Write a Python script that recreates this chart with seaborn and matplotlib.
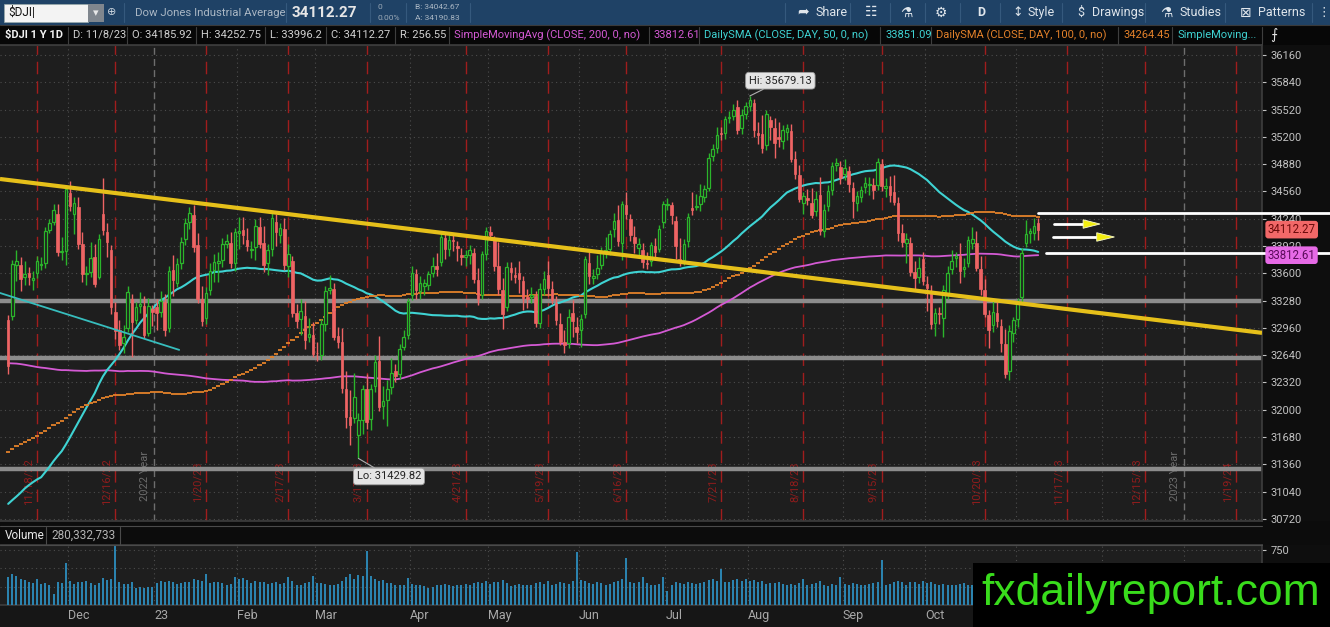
import numpy as np
import pandas as pd
import matplotlib
matplotlib.use("Agg")
import matplotlib.pyplot as plt
from matplotlib.patches import Rectangle, Polygon
from matplotlib.transforms import blended_transform_factory
import seaborn as sns

# ---------------- data ($DJI, daily, 1 year) ----------------
# closes before the visible window (Jan 3 - Nov 8 2022), only feed the moving averages
prior_closes = [
    36585, 36799, 36407, 36236, 36231, 36068, 36252, 36290, 36113, 35912, 35368, 35029, 34715, 34265, 34365, 34298, 34168, 34160, 34725, 35132,
    35405, 35630, 35111, 35089, 35091, 35463, 35768, 35242, 34738, 34566, 34989, 34935, 34312, 34079, 33597, 33132, 33224, 34059, 33893,
    33295, 33891, 33795, 33615, 32818, 32633, 33286, 33174, 32944, 32945, 33545, 34063, 34481, 34755, 34553, 34808, 34359, 34708, 34862, 34956, 35295, 35229, 34678,
    34818, 34922, 34642, 34497, 34584, 34721, 34309, 34221, 34565, 34452, 34412, 34912, 35161, 34793, 33811, 34049, 33240, 33302, 34000, 32977,
    33062, 33129, 34061, 32998, 32899, 32246, 32161, 31834, 31730, 32197, 32224, 32655, 31490, 31254, 31262, 31880, 31928, 32120, 32637, 33213, 32990,
    32813, 33248, 32900, 32916, 33180, 32910, 32272, 31393, 30517, 30365, 30669, 29927, 29889, 30530, 30484, 30677, 31501, 31439, 30947, 31029, 30775,
    31097, 30968, 31037, 31385, 31338, 31174, 30982, 30773, 30630, 31288, 31073, 31827, 31875, 32036, 31899, 31990, 31762, 32198, 32529, 32845,
    32798, 32397, 32813, 32727, 32803, 32833, 32775, 33310, 33337, 33761, 33913, 34152, 33981, 33999, 33707, 33064, 32910, 32969, 33292, 32283, 32099, 31791, 31510,
    31657, 31318, 31146, 31581, 31775, 32152, 32382, 31105, 31136, 30962, 30822, 31020, 30706, 30184, 30077, 29590, 29261, 29135, 29684, 29226, 28726,
    29490, 30317, 30274, 29927, 29297, 29203, 29240, 29211, 30039, 29635, 30186, 30524, 30424, 30334, 31083, 31500, 31837, 31839, 32034, 32862, 32733,
    32653, 32148, 32001, 32403, 32827, 33160,
]

first_day = "2022-11-09"
closes = [
    32514, 33715, 33748, 33537, 33593, 33554, 33546, 33746, 33700, 34098, 34194, 34347, 33849, 33853, 34590,
    34395, 34430, 33947, 33596, 33598, 33781, 33476, 34005, 34109, 33966, 33202, 32920, 32758, 32850, 33376, 33027, 33204, 33242, 32876, 33221, 33147,
    33136, 33270, 32930, 33631, 33518, 33704, 33973, 34190, 34303, 33911, 33297, 33045, 33375, 33630, 33734, 33744, 33949, 33978, 33717, 34086,
    34093, 34054, 33926, 33891, 34157, 33949, 33700, 33869, 34246, 34089, 34128, 33697, 33827, 33130, 33045, 33154, 32817, 32889, 32657,
    32662, 33004, 33391, 33431, 32856, 32798, 32255, 31910, 31819, 32155, 31875, 32247, 31862, 32245, 32561, 32030, 32105, 32238, 32432, 32394, 32718, 32859, 33274,
    33601, 33402, 33483, 33485, 33587, 33685, 33647, 34030, 33886, 33987, 33977, 33897, 33787, 33809, 33875, 33531, 33302, 33826, 34098,
    34052, 33685, 33414, 33128, 33674, 33619, 33562, 33531, 33310, 33301, 33349, 33012, 33421, 33536, 33427, 33287, 33056, 32800, 32765, 33093, 33043, 32908,
    33062, 33763, 33563, 33573, 33665, 33834, 33877, 34066, 34212, 33979, 34408, 34299, 34054, 33952, 33947, 33727, 33715, 33927, 33853, 34122, 34408,
    34418, 34289, 33922, 33735, 33944, 34261, 34347, 34395, 34509, 34585, 34952, 35061, 35225, 35228, 35411, 35438, 35520, 35283, 35459, 35560,
    35631, 35283, 35216, 35066, 35473, 35314, 35123, 35176, 35281, 35308, 34946, 34766, 34475, 34501, 34464, 34289, 34473, 34099, 34347, 34560, 34853, 34890, 34722,
    34838, 34642, 34443, 34501, 34577, 34664, 34646, 34576, 34907, 34618, 34624, 34518, 34441, 34070, 33964, 34007, 33619, 33550, 33666, 33508,
    33433, 33002, 33130, 33120, 33408, 33605, 33739, 33805, 33631, 33670, 33985, 33998, 33665, 33414, 33127, 32936, 33141, 33036, 32784, 32418, 32929, 33053,
    33275, 33839, 34061, 34096, 34153, 34112.27,
]
opens = [
    33050, 33100, 33700, 33700, 33560, 33600, 33520, 33600, 33700, 33720, 34110, 34200, 34300, 33850, 33860,
    34540, 34300, 34380, 33940, 33590, 33620, 33790, 33560, 34300, 34080, 33870, 33150, 32930, 32780, 32960, 33300, 33050, 33220, 33220, 32900, 33180,
    33210, 33150, 33260, 32960, 33640, 33490, 33720, 34000, 34200, 34280, 33930, 33300, 33080, 33400, 33640, 33720, 33760, 33940, 33950, 33720,
    34070, 34110, 33990, 33870, 33910, 34140, 33960, 33720, 33880, 34200, 34050, 34120, 33690, 33740, 33130, 33060, 33100, 32850, 32880,
    32670, 32640, 33010, 33400, 33420, 32860, 32790, 32240, 31910, 31900, 31700, 31880, 32240, 31890, 32280, 32570, 32040, 32120, 32270, 32450, 32420, 32740, 32880,
    33340, 33590, 33390, 33450, 33460, 33600, 33690, 33730, 34010, 33880, 33990, 33920, 33810, 33790, 33810, 33840, 33520, 33350, 33830,
    34090, 34000, 33680, 33400, 33200, 33660, 33580, 33600, 33510, 33320, 33320, 33330, 33020, 33420, 33580, 33420, 33250, 33010, 32790, 32780, 33130, 32970,
    32930, 33120, 33720, 33540, 33590, 33700, 33850, 33890, 34120, 34220, 33960, 34400, 34240, 34030, 33900, 33870, 33720, 33740, 33920, 33890, 34200,
    34400, 34400, 34210, 33770, 33760, 33980, 34360, 34380, 34410, 34500, 34600, 34980, 35070, 35240, 35250, 35420, 35450, 35550, 35300, 35470,
    35560, 35600, 35250, 35230, 35100, 35400, 35300, 35200, 35150, 35260, 35270, 34940, 34750, 34420, 34480, 34430, 34330, 34520, 34100, 34390, 34580, 34870, 34850,
    34770, 34800, 34600, 34430, 34500, 34610, 34630, 34640, 34640, 34880, 34600, 34620, 34550, 34420, 34070, 33960, 33950, 33620, 33560, 33770,
    33480, 33370, 33020, 33130, 33080, 33360, 33650, 33780, 33800, 33650, 33720, 33960, 33950, 33650, 33400, 33110, 32990, 33130, 32980, 32770, 32450, 32900,
    33070, 33320, 33950, 34070, 34070, 34185.92,
]
# wick lengths above the body top / below the body bottom, in index points
upper_wick = [
    60, 40, 130, 90, 150, 70, 80, 60, 90, 50, 40, 60, 110, 170, 30,
    140, 60, 120, 150, 90, 190, 150, 60, 420, 110, 60, 110, 120, 140, 80, 60, 60, 140, 110, 90, 50,
    90, 120, 100, 60, 170, 80, 50, 60, 70, 120, 140, 150, 60, 90, 90, 110, 60, 80, 140, 40,
    170, 150, 140, 90, 80, 120, 200, 80, 60, 90, 60, 130, 120, 60, 110, 150, 180, 190, 150,
    130, 60, 60, 150, 70, 110, 170, 210, 320, 280, 90, 40, 180, 60, 80, 300, 170, 110, 170, 90, 50, 80, 40,
    80, 60, 90, 50, 40, 110, 150, 40, 80, 60, 80, 60, 90, 70, 60, 60, 140, 40, 50,
    70, 40, 290, 140, 60, 70, 90, 150, 60, 100, 90, 60, 60, 90, 170, 90, 80, 120, 140, 90, 160, 120,
    60, 40, 130, 80, 150, 70, 150, 40, 90, 180, 40, 150, 60, 120, 70, 90, 130, 40, 90, 50, 40,
    70, 40, 60, 240, 60, 50, 190, 130, 140, 50, 60, 50, 90, 80, 30, 60, 60, 80, 70, 50,
    48.13, 40, 130, 230, 40, 40, 120, 170, 60, 40, 80, 90, 120, 50, 110, 170, 90, 210, 70, 80, 50, 60, 70,
    100, 60, 70, 60, 50, 60, 80, 80, 40, 60, 90, 120, 200, 80, 110, 70, 80, 120, 130, 80,
    90, 90, 60, 70, 60, 80, 130, 40, 150, 110, 50, 140, 150, 150, 130, 60, 150, 160, 80, 180, 60, 40,
    40, 60, 170, 40, 90, 66.83,
]
lower_wick = [
    90, 50, 190, 140, 100, 90, 120, 50, 60, 60, 40, 30, 50, 90, 160,
    60, 240, 60, 100, 130, 60, 40, 30, 60, 180, 80, 90, 60, 120, 50, 410, 50, 90, 30, 40, 170,
    200, 60, 70, 50, 180, 50, 70, 70, 80, 60, 50, 60, 70, 50, 140, 220, 90, 40, 50, 90,
    190, 110, 60, 90, 150, 50, 80, 140, 80, 170, 100, 60, 130, 40, 90, 180, 100, 50, 40,
    90, 60, 90, 40, 40, 70, 60, 120, 230, 60, 270.18, 160, 90, 130, 70, 40, 150, 310, 90, 70, 60, 40, 50,
    50, 100, 90, 110, 50, 40, 80, 40, 120, 80, 110, 150, 90, 110, 100, 50, 70, 50, 70,
    50, 60, 70, 180, 40, 100, 70, 160, 140, 110, 70, 40, 60, 80, 90, 50, 60, 40, 100, 50, 190, 120,
    190, 40, 90, 70, 60, 50, 70, 80, 90, 60, 200, 60, 70, 110, 90, 60, 60, 50, 70, 40, 70,
    60, 110, 150, 50, 60, 70, 60, 40, 80, 60, 40, 60, 60, 60, 70, 60, 50, 50, 70, 60,
    60, 80, 100, 60, 50, 150, 170, 100, 90, 100, 40, 60, 40, 130, 60, 40, 60, 50, 80, 60, 60, 70, 80,
    70, 90, 190, 100, 60, 70, 110, 110, 60, 50, 110, 80, 40, 90, 60, 240, 50, 150, 70, 40,
    270, 50, 150, 110, 230, 60, 60, 110, 140, 90, 50, 80, 40, 70, 40, 210, 80, 70, 110, 40, 100, 100,
    100, 60, 40, 110, 80, 116.07,
]
# volume in millions of shares
volume_m = [
    380, 430, 390, 360, 340, 320, 300, 360, 290, 300, 280, 150, 310, 300, 580,
    330, 290, 310, 320, 330, 300, 280, 300, 370, 340, 360, 800, 310, 290, 290, 320, 230, 240, 230, 240, 250,
    300, 330, 320, 330, 310, 290, 300, 320, 310, 350, 340, 330, 430, 300, 310, 320, 300, 280, 290, 380,
    360, 370, 340, 300, 330, 310, 320, 290, 300, 310, 290, 300, 380, 330, 280, 270, 300, 310, 400,
    300, 300, 290, 270, 280, 290, 330, 380, 420, 360, 410, 390, 740, 400, 350, 330, 340, 300, 300, 280, 270, 280, 370,
    290, 280, 270, 260, 230, 250, 270, 280, 290, 270, 260, 270, 280, 290, 270, 300, 310, 300, 330,
    290, 310, 320, 340, 300, 260, 280, 290, 280, 270, 280, 300, 310, 290, 330, 270, 290, 310, 300, 290, 330, 720,
    340, 330, 300, 290, 320, 300, 280, 290, 320, 330, 360, 640, 320, 300, 310, 380, 300, 280, 270, 290, 380,
    190, 270, 310, 300, 290, 310, 300, 290, 300, 320, 340, 350, 330, 490, 320, 320, 340, 350, 330, 360,
    330, 340, 320, 330, 290, 300, 300, 310, 290, 270, 290, 280, 300, 360, 280, 290, 300, 330, 280, 260, 290, 280, 380,
    290, 280, 300, 290, 270, 280, 290, 300, 310, 620, 280, 290, 310, 330, 310, 280, 320, 310, 290, 330,
    300, 320, 290, 280, 290, 280, 270, 280, 290, 300, 280, 270, 300, 310, 340, 290, 280, 300, 310, 330, 290, 320,
    310, 350, 320, 290, 280, 280.33,
]

holidays = ["2022-11-24", "2022-12-26", "2023-01-02", "2023-01-16", "2023-02-20", "2023-04-07",
            "2023-05-29", "2023-06-19", "2023-07-04", "2023-09-04", "2023-11-23", "2023-12-25",
            "2024-01-01", "2024-01-15", "2024-02-19"]
expiries = ["2022-11-18", "2022-12-16", "2023-01-20", "2023-02-17", "2023-03-17", "2023-04-21",
            "2023-05-19", "2023-06-16", "2023-07-21", "2023-08-18", "2023-09-15", "2023-10-20",
            "2023-11-17", "2023-12-15", "2024-01-19"]

# study values shown in the header
sma200_last, sma50_last, sma100_last = 33812.61, 33851.09, 34264.45
header_ohlc = ["D: 11/8/23", "O: 34185.92", "H: 34252.75", "L: 33996.2", "C: 34112.27", "R: 256.55"]
volume_text = "280,332,733"

# drawings on the chart
gray_levels = [33270, 32610, 31300]
yellow_trend = [("2022-12-01", 34606), ("2023-11-08", 33222)]
cyan_trend = [("2022-11-09", 33339), ("2023-01-10", 32710)]
white_levels = [("2023-11-08", 34308), ("2023-11-10", 33840)]
# arrows: price, shaft start / head start / tip in bars after the last candle
arrow_specs = [(34178, 3.8, 10.9, 15.0), (34026, 3.6, 14.2, 18.5)]

# ---------------- layout ----------------
W, H = 1330, 627
BAR_PX, FIRST_PX, PLOT_R = 4.12, 8.2, 1262
WATERMARK_X = 973
P_LO, P_HI = 30696, 36277
BG = "#1e1e1e"
GREEN, RED = "#2bb52b", "#ee6464"
CYAN, ORANGE, MAGENTA = "#3fd3d3", "#e3812a", "#d45ad4"
GRID = "#4c4c4c"

sns.set_theme(style="dark", rc={"axes.facecolor": BG, "figure.facecolor": "#0e0e0e",
                                "axes.edgecolor": "#3c3c3c"})
plt.rcParams["font.family"] = ["Roboto", "DejaVu Sans"]

fig = plt.figure(figsize=(W / 100, H / 100), dpi=100)


def frac(x0, y0, x1, y1):
    return [x0 / W, 1 - y1 / H, (x1 - x0) / W, (y1 - y0) / H]


def ftext(x, y, s, **kw):
    kw.setdefault("va", "center")
    return fig.text(x / W, 1 - y / H, s, **kw)


def frect(x0, y0, x1, y1, **kw):
    fig.add_artist(Rectangle((x0 / W, 1 - y1 / H), (x1 - x0) / W, (y1 - y0) / H,
                             transform=fig.transFigure, **kw))


def fline(x0, y0, x1, y1, **kw):
    fig.add_artist(plt.Line2D([x0 / W, x1 / W], [1 - y0 / H, 1 - y1 / H],
                              transform=fig.transFigure, **kw))


ax = fig.add_axes(frac(0, 45, PLOT_R, 521))
axv = fig.add_axes(frac(0, 545, PLOT_R, 605), sharex=ax)

dates = pd.bdate_range(first_day, "2024-02-29", freq="C", holidays=holidays)
n = min(len(closes), len(opens), len(upper_wick), len(lower_wick), len(volume_m))
x = np.arange(n)
c = np.array(closes[:n], float)
o = np.array(opens[:n], float)
hi = np.maximum(o, c) + np.array(upper_wick[:n], float)
lo = np.minimum(o, c) - np.array(lower_wick[:n], float)
up = c >= o

xmin = -FIRST_PX / BAR_PX
xmax = (PLOT_R - FIRST_PX) / BAR_PX


def idx(d):
    return dates.get_loc(pd.Timestamp(d))


def line_at(anchors, xs):
    (d0, p0), (d1, p1) = anchors
    i0, i1 = idx(d0), idx(d1)
    slope = (p1 - p0) / (i1 - i0)
    return [p0 + slope * (xx - i0) for xx in xs]


# ---- grid ----
for yv in np.arange(30720, 36161, 320):
    ax.axhline(yv, color=GRID, ls=(0, (1, 3)), lw=0.8, zorder=1)
month_first = dates.to_series().groupby(dates.to_period("M")).first()
month_pos, month_lab = [], []
btr = blended_transform_factory(ax.transData, ax.transAxes)
for ts in month_first:
    if ts == dates[0]:
        continue  # window starts mid-month
    pos = idx(ts) - 0.5
    if pos > xmax:
        continue
    if ts.month == 1:
        lab = f"{ts:%y}"
        ax.axvline(pos, color="#6e6e6e", ls=(0, (5, 3)), lw=1.0, zorder=1)
        ax.text(pos - 1.0, 0.095, f"{ts.year - 1} Year", transform=btr, rotation=90,
                ha="right", va="center", color="#6c6c6c", fontsize=8, zorder=1)
    else:
        lab = f"{ts:%b}"
        ax.axvline(pos, color=GRID, ls=(0, (1, 3)), lw=0.8, zorder=1)
    axv.axvline(pos, color=GRID, ls=(0, (1, 3)), lw=0.8, zorder=1)
    # labels further right sit under the watermark box
    if FIRST_PX + pos * BAR_PX < WATERMARK_X - 20:
        month_pos.append(pos)
        month_lab.append(lab)

for d in expiries:
    ts = pd.Timestamp(d)
    i = idx(ts)
    ax.axvline(i, color="#a01d1d", ls=(0, (9, 5)), lw=1.0, zorder=1.5)
    ax.text(i - 0.8, 0.082, f"{ts.month}/{ts.day}/{ts:%y}", transform=btr, rotation=90,
            ha="right", va="center", color="#8e1c1c", fontsize=8, zorder=1.5)

# ---- drawings under the candles ----
for lvl in gray_levels:
    ax.axhline(lvl, color="#8c8c8c", lw=3.2, zorder=2)
ax.plot([xmin, xmax], line_at(yellow_trend, [xmin, xmax]), color="#e6c01a", lw=3,
        solid_capstyle="butt", zorder=6)
cyan_end = idx(cyan_trend[1][0]) + 0.5
ax.plot([xmin, cyan_end], line_at(cyan_trend, [xmin, cyan_end]), color="#37bdbd", lw=1.3, zorder=6)

# ---- moving averages ----
full = pd.Series(list(prior_closes) + list(closes[:n]), dtype=float)
sma = {k: full.rolling(k).mean().iloc[-n:].to_numpy() for k in (50, 100, 200)}
sns.lineplot(x=x, y=sma[200], ax=ax, color=MAGENTA, lw=1.3, zorder=3)
sns.lineplot(x=x, y=sma[50], ax=ax, color=CYAN, lw=1.5, zorder=3)
ax.hlines(sma[100], x - 0.5, x + 0.5, colors=ORANGE, lw=1.3, zorder=3)

# ---- candles ----
ax.vlines(x, lo, hi, colors=np.where(up, GREEN, RED), lw=1.0, zorder=4)
body = np.maximum(np.abs(c - o), 8)
ax.bar(x[up], body[up], bottom=o[up], width=0.62, facecolor=BG, edgecolor=GREEN, lw=0.9, zorder=5)
ax.bar(x[~up], body[~up], bottom=c[~up], width=0.62, facecolor=RED, edgecolor=RED, lw=0.5, zorder=5)

# ---- white levels and arrows on the right ----
x_far = xmax + (W - PLOT_R) / BAR_PX
for d, p in white_levels:
    ax.plot([idx(d), x_far], [p, p], color="white", lw=2, clip_on=False, zorder=7)
last = n - 1
for p, s0, s1, tip in arrow_specs:
    ax.plot([last + s0, last + s1], [p, p], color="white", lw=2, zorder=7)
    ax.add_patch(Polygon([(last + s1, p + 50), (last + s1, p - 50), (last + tip, p)],
                         closed=True, facecolor="#f2ee10", edgecolor="#fafad0", lw=0.6, zorder=7))

# ---- hi / lo bubbles ----
ih, il = int(np.argmax(hi)), int(np.argmin(lo))
bub = dict(boxstyle="round,pad=0.3,rounding_size=0.3", fc="#e4e4e4", ec="#9a9a9a", lw=0.6)
ax.annotate(f"Hi: {hi[ih]:.2f}", xy=(ih, hi[ih]), xytext=(22, 11), textcoords="offset points",
            ha="center", va="center", fontsize=8, color="#222222", bbox=bub, zorder=9,
            arrowprops=dict(arrowstyle="-", color="#b0b0b0", lw=0.8, shrinkA=0, shrinkB=0))
ax.annotate(f"Lo: {lo[il]:.2f}", xy=(il, lo[il]), xytext=(22, -13), textcoords="offset points",
            ha="center", va="center", fontsize=8, color="#222222", bbox=bub, zorder=9,
            arrowprops=dict(arrowstyle="-", color="#b0b0b0", lw=0.8, shrinkA=0, shrinkB=0))

# ---- price axis ----
ax.set_xlim(xmin, xmax)
ax.set_ylim(P_LO, P_HI)
ax.set_yticks(np.arange(30720, 36161, 320))
ax.yaxis.tick_right()
ax.tick_params(axis="y", colors="#c2c2c2", labelsize=8, length=3, pad=3, width=0.8)
ax.tick_params(axis="x", bottom=False, labelbottom=False)
ax.set_xlabel("")
ax.set_ylabel("")
ax.grid(False)
ax.spines["left"].set_visible(False)
tr_tag = blended_transform_factory(ax.transAxes, ax.transData)
ax.text(1.0045, c[-1], f"{c[-1]:.2f}", transform=tr_tag, ha="left", va="center", fontsize=8.3,
        color="#6a0a0a", zorder=10, clip_on=False,
        bbox=dict(boxstyle="round,pad=0.2,rounding_size=0.25", fc="#f26868", ec="none"))
ax.text(1.0045, sma200_last, f"{sma200_last:.2f}", transform=tr_tag, ha="left", va="center",
        fontsize=8.3, color="#5a0a5a", zorder=10, clip_on=False,
        bbox=dict(boxstyle="round,pad=0.2,rounding_size=0.25", fc="#e66ae6", ec="none"))

# ---- volume ----
axv.vlines(x, 0, volume_m[:n], colors="#2c86b4", lw=1.4, zorder=3)
axv.set_ylim(0, 820)
for yv in (250, 500, 750):
    axv.axhline(yv, color=GRID, ls=(0, (1, 3)), lw=0.8, zorder=1)
axv.set_yticks([750])
axv.set_yticklabels(["750"])
axv.yaxis.tick_right()
axv.tick_params(axis="y", colors="#c2c2c2", labelsize=8, length=3, pad=3, width=0.8)
axv.set_xticks(month_pos)
axv.set_xticklabels(month_lab)
axv.tick_params(axis="x", colors="#a8a8a8", labelsize=9, length=0, pad=3)
for t in axv.get_xticklabels():
    t.set_ha("left")
axv.set_xlim(xmin, xmax)
axv.grid(False)
axv.spines["left"].set_visible(False)

# ---- chrome: toolbar ----
frect(0, 0, W, 25, fc="#1f4266", ec="none", zorder=-2)
frect(4, 4, 88, 22, fc="#f3f3f3", ec="#9aa", lw=0.5)
ftext(8, 13, "$DJI|", color="#111111", fontsize=8.5)
frect(88, 4, 104, 22, fc="#7f868e", ec="none")
ftext(96, 13, "\u25be", color="#e8e8e8", fontsize=8, ha="center")
ftext(112, 12, "\u2295", color="#c8d2dc", fontsize=8, ha="center")
for sx in (124, 286, 370, 406, 470, 785, 850, 890, 925, 960, 1000, 1062, 1145, 1225, 1312):
    fline(sx, 3, sx, 22, color="#35597d", lw=0.8)
ftext(135, 12.5, "Dow Jones Industrial Average", color="#aab7c4", fontsize=8.2)
ftext(292, 13, "34112.27", color="#e6e6e6", fontsize=11, fontweight="bold")
ftext(377, 7, "0", color="#9aa8b6", fontsize=6)
ftext(377, 18, "0.00%", color="#9aa8b6", fontsize=6)
ftext(415, 7, "B: 34042.67", color="#aab7c4", fontsize=6)
ftext(415, 18, "A: 34190.83", color="#aab7c4", fontsize=6)
ftext(797, 12.5, "\u27a6", color="#e0e6ec", fontsize=10)
ftext(815, 12.5, "Share", color="#e0e6ec", fontsize=9)
ftext(865, 12.5, "\u2637", color="#e0e6ec", fontsize=10)
ftext(900, 12.5, "\u2697", color="#e0e6ec", fontsize=10)
ftext(935, 12.5, "\u2699", color="#e0e6ec", fontsize=10)
ftext(977, 12.5, "D", color="#e0e6ec", fontsize=9, fontweight="bold")
ftext(1012, 12.5, "\u2195", color="#e0e6ec", fontsize=9)
ftext(1028, 12.5, "Style", color="#e0e6ec", fontsize=9)
ftext(1077, 12.5, "$", color="#e0e6ec", fontsize=9)
ftext(1092, 12.5, "Drawings", color="#e0e6ec", fontsize=9)
ftext(1160, 12.5, "\u2697", color="#e0e6ec", fontsize=10)
ftext(1179, 12.5, "Studies", color="#e0e6ec", fontsize=9)
ftext(1240, 12.5, "\u22a0", color="#e0e6ec", fontsize=10, family=["DejaVu Sans"])
ftext(1258, 12.5, "Patterns", color="#e0e6ec", fontsize=9)
ftext(1317, 12.5, "\u22ee", color="#e0e6ec", fontsize=9)

# ---- chrome: study header ----
frect(0, 25, W, 45, fc="#070707", ec="none", zorder=-2)
fline(0, 25, W, 25, color="#3a3a3a", lw=0.8)
fline(0, 45, PLOT_R, 45, color="#3a3a3a", lw=0.8)
cells = [(0, 68, "$DJI 1 Y 1D", "#f2f2f2", "bold")]
edges = [68, 127, 196, 265, 326, 395, 449]
for (a, b), s in zip(zip(edges[:-1], edges[1:]), header_ohlc):
    cells.append((a, b, s, "#d0d0d0", "normal"))
cells += [
    (449, 649, "SimpleMovingAvg (CLOSE, 200, 0, no)", MAGENTA, "normal"),
    (649, 699, f"{sma200_last:.2f}", MAGENTA, "normal"),
    (699, 880, "DailySMA (CLOSE, DAY, 50, 0, no)", CYAN, "normal"),
    (880, 931, f"{sma50_last:.2f}", CYAN, "normal"),
    (931, 1118, "DailySMA (CLOSE, DAY, 100, 0, no)", ORANGE, "normal"),
    (1118, 1172, f"{sma100_last:.2f}", ORANGE, "normal"),
    (1172, 1262, "SimpleMoving...", CYAN, "normal"),
]
for a, b, s, col, wt in cells:
    ftext(a + 5, 35, s, color=col, fontsize=8, fontweight=wt)
    fline(b, 27, b, 44, color="#3e3e3e", lw=0.8)
ftext(1270, 35, "\u2a0d", color="#e0e0e0", fontsize=10)

# ---- chrome: volume header, bottom strip ----
frect(0, 521, W, 545, fc="#0c0c0c", ec="none", zorder=-2)
fline(0, 526, PLOT_R, 526, color="#4a4a4a", lw=0.8)
fline(0, 545, PLOT_R, 545, color="#4a4a4a", lw=0.8)
ftext(5, 535.5, "Volume", color="#e8e8e8", fontsize=8.5)
fline(46, 527, 46, 544, color="#4a4a4a", lw=0.8)
ftext(51, 535.5, volume_text, color="#b4b4b4", fontsize=8.5)
fline(120, 527, 120, 544, color="#4a4a4a", lw=0.8)
frect(0, 605, PLOT_R, 627, fc="#161616", ec="none", zorder=-2)

# ---- watermark ----
frect(WATERMARK_X, 563, W, 627, fc="black", ec="none", zorder=20)
ftext(1151, 594, "fxdailyreport.com", color="#39dc1c", fontsize=32, ha="center",
      family=["Liberation Sans Narrow", "Liberation Sans", "DejaVu Sans"], zorder=21)

fig.savefig("out.png", dpi=100, facecolor=fig.get_facecolor())
